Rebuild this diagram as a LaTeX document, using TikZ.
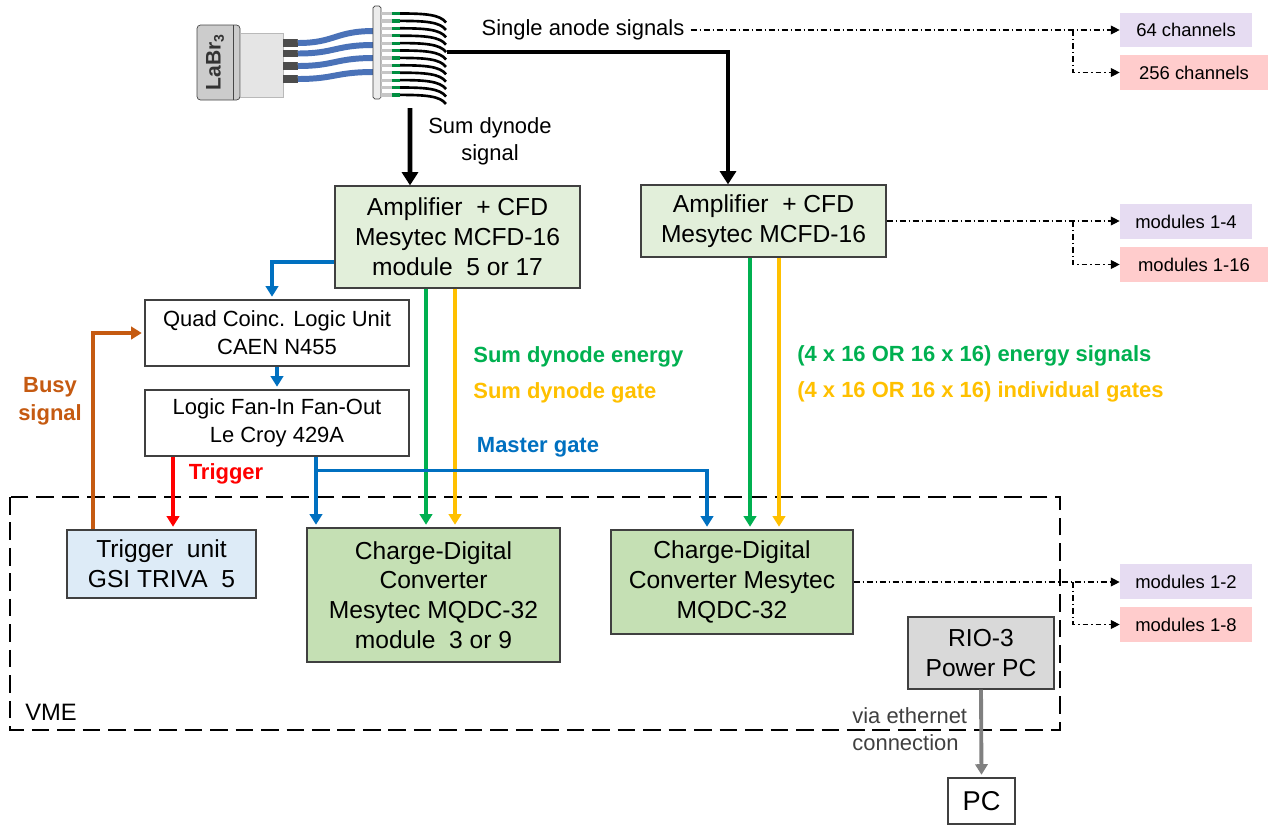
\documentclass[tikz,border=0pt]{standalone}
\usepackage{fontspec}
\setmainfont{Liberation Sans}
\usetikzlibrary{arrows.meta}

\definecolor{mgblue}{HTML}{0070C0}
\definecolor{engreen}{HTML}{00B050}
\definecolor{gateyel}{HTML}{FFC000}
\definecolor{busyorg}{HTML}{C55A11}
\definecolor{ampfill}{HTML}{E2EFDA}
\definecolor{qdcfill}{HTML}{C5E0B4}
\definecolor{trvfill}{HTML}{DDEBF7}
\definecolor{riofill}{HTML}{D9D9D9}
\definecolor{lilac}{HTML}{E6DCF2}
\definecolor{rosa}{HTML}{FFCCCC}
\definecolor{boxline}{HTML}{404040}
\definecolor{cable}{HTML}{4A72B8}

\begin{document}
\begin{tikzpicture}[x=0.02cm, y=-0.02cm,
    box/.style={draw=boxline, line width=0.7pt, align=center, inner sep=1pt,
        font=\fontsize{14}{17}\selectfont},
    logic/.style={box, fill=white, minimum width=5.28cm, minimum height=1.32cm,
        font=\fontsize{12.5}{15.9}\selectfont},
    outbox/.style={inner sep=1pt, minimum height=0.69cm, font=\fontsize{10.5}{12}\selectfont},
    lbl/.style={inner sep=0pt, font=\bfseries\fontsize{12.5}{15.9}\selectfont},
    sig/.style={line width=2.8pt, -{Triangle[width=9pt,length=7.5pt]}},
    wire/.style={line width=2pt, -{Triangle[width=7pt,length=6pt]}, shorten >=1.5pt},
    dd/.style={line width=0.6pt, dash pattern=on 3.4pt off 1.7pt on 0.6pt off 1.7pt,
        -{Triangle[width=5pt,length=5pt]}}]

    \useasboundingbox (0,0) rectangle (1274,825);

    % VME crate
    \draw[line width=1.2pt, dash pattern=on 10pt off 4.5pt] (10,497) rectangle (1060,730);
    \node[font=\fontsize{13.5}{16}\selectfont] (vme) at (51,712) {VME};

    % ---- Detector: LaBr3 crystal, PMT and anode cables ----
    \draw[rounded corners=2pt, fill=gray!40, draw=gray!55!black] (197,25) rectangle (240,100);
    \draw[gray!55!black] (233,25) -- (233,100);
    \node[rotate=90, text=black!80, font=\bfseries\fontsize{12}{14}\selectfont] (labr) at (215,62)
        {LaBr\textsubscript{3}};
    \draw[fill=gray!20, draw=gray!55] (240,33) rectangle (283,97);
    \foreach \ya/\yb in {39/47, 50/57, 62/70, 75/83}
        \fill[black!70] (283,\ya) rectangle (298,\yb);
    % blue cables to the plate
    \foreach \ya/\yb in {43/31, 53.5/45, 66/58, 79/72} {
        \draw[white, line width=4.8pt] (298,\ya) .. controls (335,\ya) and (335,\yb) .. (374,\yb);
        \draw[cable, line width=3.4pt] (298,\ya) .. controls (335,\ya) and (335,\yb) .. (374,\yb);
    }
    \draw[fill=gray!15, draw=gray!50!black, rounded corners=1pt] (373,6) rectangle (381,99);
    % single anode pins and wires
    \foreach \i in {0,...,11} {
        \pgfmathsetmacro{\yp}{13.5+7.4*\i}
        \fill[gray!45] (381,\yp-1.6) rectangle (392,\yp+1.6);
        \fill[engreen!80!black] (392,\yp-1.6) rectangle (400,\yp+1.6);
        \draw[white, line width=2.8pt] (400,\yp) .. controls (425,\yp) and (440,\yp+1) .. (446,\yp+9);
        \draw[black, line width=1.5pt] (400,\yp) .. controls (425,\yp) and (440,\yp+1) .. (446,\yp+9);
    }
    \coordinate (anode) at (447,52);
    \coordinate (dyn) at (410,108);

    % ---- Modules ----
    \node[box, fill=ampfill, minimum width=4.9cm, minimum height=2.04cm] (amp1) at (457.5,237)
        {Amplifier\ \ + CFD\\Mesytec MCFD-16\\module\ \ 5 or 17};
    \node[box, fill=ampfill, minimum width=4.9cm, minimum height=1.44cm] (amp2) at (763.5,221)
        {Amplifier\ \ + CFD\\Mesytec MCFD-16};
    \node[logic] (quad) at (277,333) {Quad Coinc. Logic Unit\\CAEN N455};
    \node[logic] (fan) at (277,423) {Logic Fan-In Fan-Out\\Le Croy 429A};
    \node[box, fill=trvfill, minimum width=3.78cm, minimum height=1.36cm] (trig) at (161.5,564)
        {Trigger\ \ unit\\GSI TRIVA\ \ 5};
    \node[box, fill=qdcfill, minimum width=5.06cm, minimum height=2.68cm] (qdc1) at (433.5,595)
        {Charge-Digital\\Converter\\Mesytec MQDC-32\\module\ \ 3 or 9};
    \node[box, fill=qdcfill, minimum width=4.84cm, minimum height=2.08cm] (qdc2) at (732,582)
        {Charge-Digital\\Converter Mesytec\\MQDC-32};
    \node[box, fill=riofill, minimum width=2.92cm, minimum height=1.44cm] (rio) at (981,653)
        {RIO-3\\Power PC};
    \node[box, fill=white, minimum width=1.34cm, minimum height=0.92cm,
        font=\fontsize{15.5}{18}\selectfont] (pc) at (981.5,801) {PC};

    % ---- Output options ----
    \node[outbox, fill=lilac, minimum width=2.64cm] (ch64) at (1186,30) {64 channels};
    \node[outbox, fill=rosa, minimum width=2.96cm] (ch256) at (1194,72.5) {256 channels};
    \node[outbox, fill=lilac, minimum width=2.64cm] (m4) at (1186,221.5) {modules 1-4};
    \node[outbox, fill=rosa, minimum width=2.96cm] (m16) at (1194,264.5) {modules 1-16};
    \node[outbox, fill=lilac, minimum width=2.64cm] (m2) at (1186,581.5) {modules 1-2};
    \node[outbox, fill=rosa, minimum width=2.64cm] (m8) at (1186,624.5) {modules 1-8};

    % ---- Labels ----
    \node[font=\fontsize{12.5}{15}\selectfont] (anodetxt) at (583,30) {Single anode signals};
    \node[align=center, font=\fontsize{12.5}{15.3}\selectfont] (dyntxt) at (490,141) {Sum dynode\\signal};
    \node[lbl, text=engreen, anchor=west] (sde) at (473,357) {Sum dynode energy};
    \node[lbl, text=gateyel, anchor=west] (sdg) at (473,393) {Sum dynode gate};
    \node[lbl, text=engreen, anchor=west] (ies) at (797,356) {(4 x 16 OR 16 x 16) energy signals};
    \node[lbl, text=gateyel, anchor=west] (igs) at (797,392) {(4 x 16 OR 16 x 16) individual gates};
    \node[lbl, text=mgblue] (mgtxt) at (538,447) {Master gate};
    \node[lbl, text=red] (trtxt) at (226,474) {Trigger};
    \node[lbl, text=busyorg, align=center] (busytxt) at (50,401) {Busy\\signal};
    \node[align=left, anchor=west, inner sep=0pt, text=boxline,
        font=\fontsize{12.5}{15.3}\selectfont] (eth) at (852,729) {via ethernet\\connection};

    % ---- Signal paths ----
    \draw[sig] (anode) -| ([xshift=-0.71cm]amp2.north);
    \draw[sig] (dyn) -- ([xshift=-0.95cm]amp1.north);

    % energy and gate lines
    \coordinate (e1) at ([xshift=-0.63cm]amp1.south);
    \coordinate (g1) at ([xshift=-0.05cm]amp1.south);
    \coordinate (e2) at ([xshift=-0.27cm]amp2.south);
    \coordinate (g2) at ([xshift=0.31cm]amp2.south);
    \draw[wire, engreen] (e1) -- (e1 |- qdc1.north);
    \draw[wire, gateyel] (g1) -- (g1 |- qdc1.north);
    \draw[wire, engreen] (e2) -- (e2 |- qdc2.north);
    \draw[wire, gateyel] (g2) -- (g2 |- qdc2.north);

    % coincidence logic
    \draw[wire, mgblue] ([yshift=-0.5cm]amp1.west) -| ([xshift=-0.1cm]quad.north);
    \draw[wire, mgblue] (quad.south) -- (fan.north);
    \coordinate (mg) at ([xshift=0.78cm]fan.south);
    \draw[wire, mgblue] (mg) -- (mg |- qdc1.north);
    \draw[wire, mgblue] ([yshift=-0.28cm]mg) -| ([xshift=-0.5cm]qdc2.north);
    \coordinate (tr) at ([xshift=-2.08cm]fan.south);
    \draw[wire, red] (tr) -- (tr |- trig.north);
    \coordinate (bs) at ([xshift=-1.37cm]trig.north);
    \draw[wire, busyorg] (bs) |- (quad.west);

    % readout
    \draw[wire, gray, line width=2.2pt] (rio.south) -- (pc.north);

    % alternative setups
    \coordinate (split) at (1073,0);
    \draw[dd] (anodetxt.east) -- (anodetxt.east -| ch64.west);
    \draw[dd] (anodetxt.east -| split) |- (ch256.west);
    \draw[dd] (amp2.east) -- (amp2.east -| m4.west);
    \draw[dd] (amp2.east -| split) |- (m16.west);
    \draw[dd] (qdc2.east) -- (qdc2.east -| m2.west);
    \draw[dd] (qdc2.east -| split) |- (m8.west);

\end{tikzpicture}
\end{document}
